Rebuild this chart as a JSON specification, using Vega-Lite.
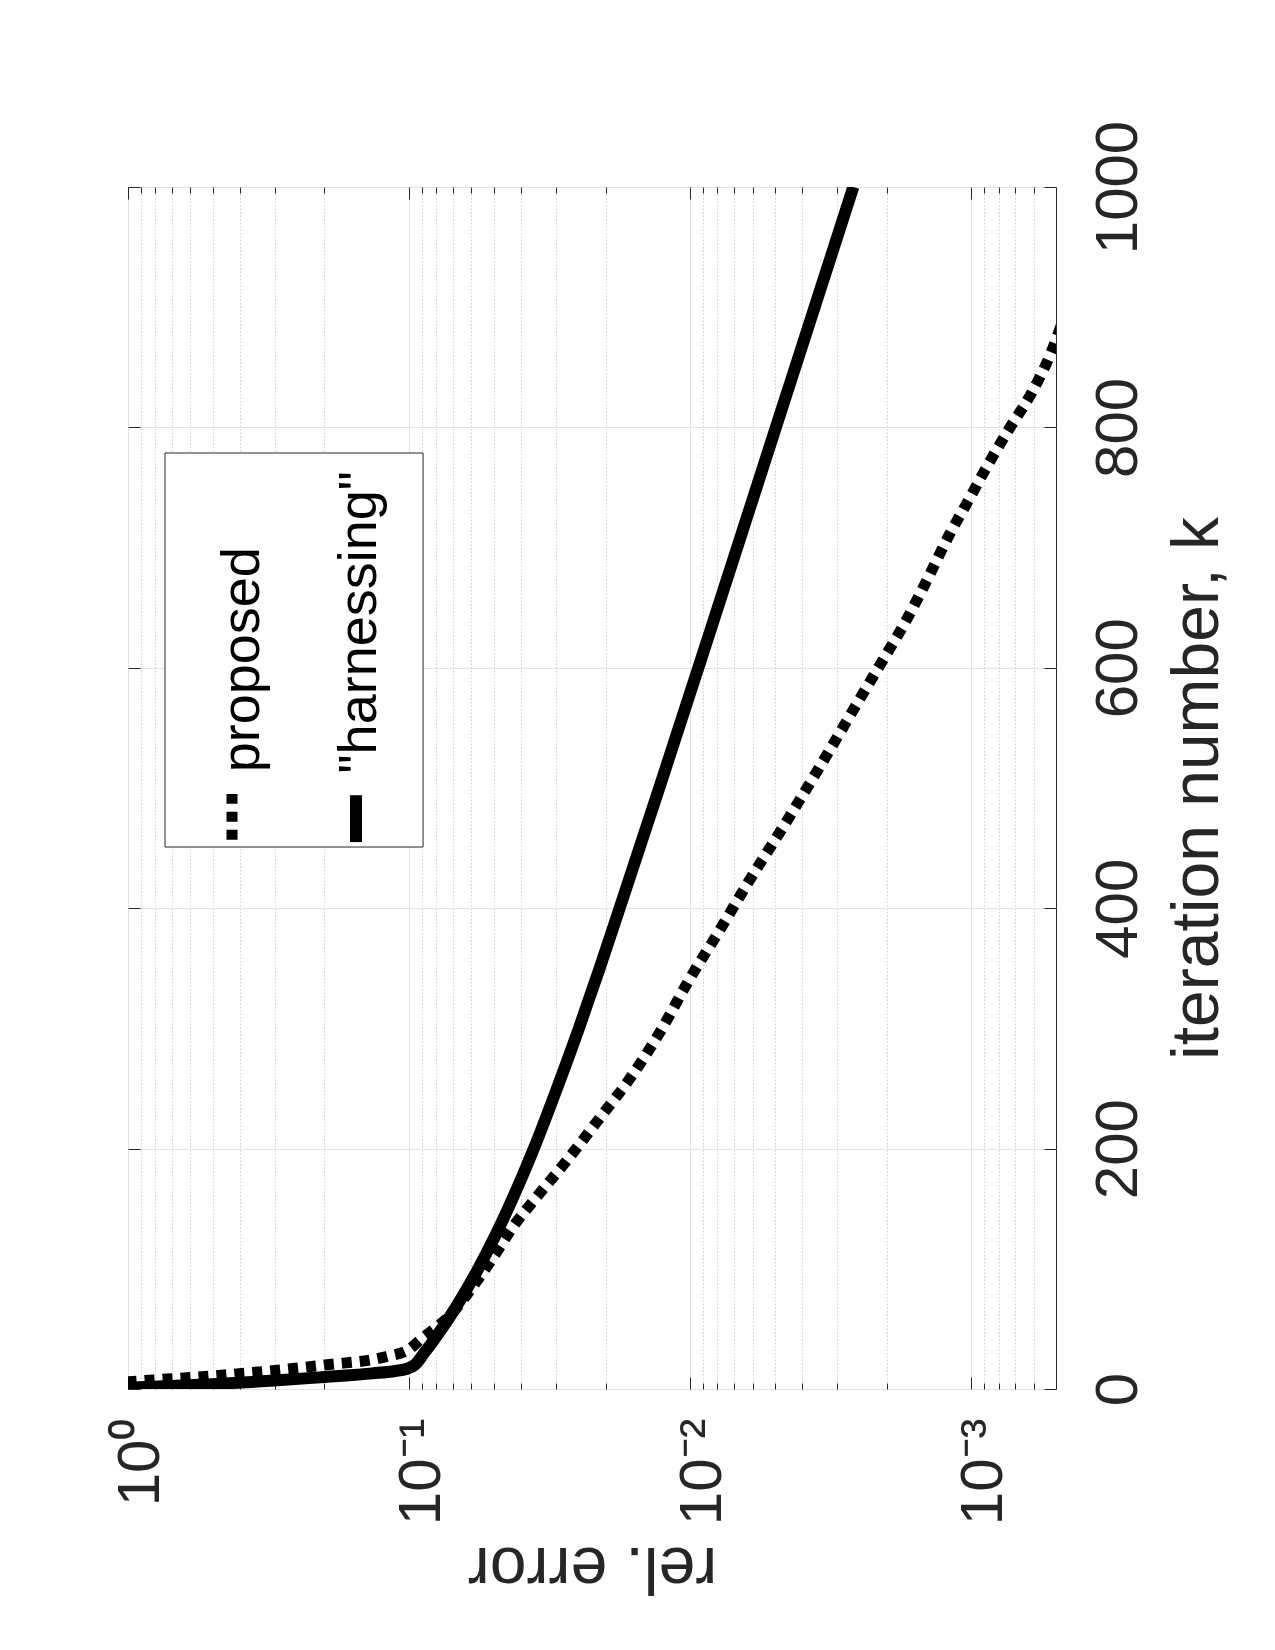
{
  "$schema": "https://vega.github.io/schema/vega-lite/v6.json",
  "width": 928,
  "height": 1202,
  "autosize": "none",
  "padding": {"left": 128, "top": 187, "right": 219, "bottom": 261},
  "background": "white",
  "config": {
    "view": {"stroke": "#262626", "strokeWidth": 1},
    "axis": {
      "labelFont": "Liberation Sans",
      "titleFont": "Liberation Sans",
      "labelColor": "#262626",
      "titleColor": "#262626",
      "tickColor": "#262626",
      "titleFontWeight": "normal",
      "domain": false,
      "labelFlush": false,
      "labelOverlap": false,
      "labelBound": false
    },
    "text": {"font": "Liberation Sans"}
  },
  "datasets": {
    "curves": [
      {"series": "proposed", "k": 1, "err": 1.82},
      {"series": "proposed", "k": 6, "err": 1.0},
      {"series": "proposed", "k": 12, "err": 0.4365},
      {"series": "proposed", "k": 20, "err": 0.1995},
      {"series": "proposed", "k": 27, "err": 0.1202},
      {"series": "proposed", "k": 33, "err": 0.1},
      {"series": "proposed", "k": 41, "err": 0.0912},
      {"series": "proposed", "k": 50, "err": 0.0813},
      {"series": "proposed", "k": 60, "err": 0.0724},
      {"series": "proposed", "k": 88, "err": 0.0582},
      {"series": "proposed", "k": 110, "err": 0.0501},
      {"series": "proposed", "k": 135, "err": 0.0427},
      {"series": "proposed", "k": 160, "err": 0.0351},
      {"series": "proposed", "k": 190, "err": 0.0275},
      {"series": "proposed", "k": 226, "err": 0.0209},
      {"series": "proposed", "k": 260, "err": 0.0162},
      {"series": "proposed", "k": 296, "err": 0.01288},
      {"series": "proposed", "k": 340, "err": 0.01012},
      {"series": "proposed", "k": 380, "err": 0.00794},
      {"series": "proposed", "k": 421, "err": 0.00624},
      {"series": "proposed", "k": 473, "err": 0.00452},
      {"series": "proposed", "k": 529, "err": 0.00324},
      {"series": "proposed", "k": 573, "err": 0.00251},
      {"series": "proposed", "k": 606, "err": 0.00207},
      {"series": "proposed", "k": 640, "err": 0.0017},
      {"series": "proposed", "k": 670, "err": 0.00146},
      {"series": "proposed", "k": 712, "err": 0.00119},
      {"series": "proposed", "k": 740, "err": 0.00102},
      {"series": "proposed", "k": 763, "err": 0.000902},
      {"series": "proposed", "k": 799, "err": 0.000733},
      {"series": "proposed", "k": 829, "err": 0.00061},
      {"series": "proposed", "k": 863, "err": 0.000519},
      {"series": "proposed", "k": 885, "err": 0.000479},
      {"series": "harnessing", "k": 1, "err": 1.0},
      {"series": "harnessing", "k": 4, "err": 0.501},
      {"series": "harnessing", "k": 7, "err": 0.302},
      {"series": "harnessing", "k": 10, "err": 0.1995},
      {"series": "harnessing", "k": 13, "err": 0.135},
      {"series": "harnessing", "k": 15, "err": 0.1122},
      {"series": "harnessing", "k": 17, "err": 0.1012},
      {"series": "harnessing", "k": 20, "err": 0.0955},
      {"series": "harnessing", "k": 30, "err": 0.0884},
      {"series": "harnessing", "k": 40, "err": 0.0821},
      {"series": "harnessing", "k": 50, "err": 0.0766},
      {"series": "harnessing", "k": 60, "err": 0.0717},
      {"series": "harnessing", "k": 75, "err": 0.0654},
      {"series": "harnessing", "k": 100, "err": 0.0568},
      {"series": "harnessing", "k": 125, "err": 0.05},
      {"series": "harnessing", "k": 150, "err": 0.0445},
      {"series": "harnessing", "k": 175, "err": 0.0399},
      {"series": "harnessing", "k": 200, "err": 0.036},
      {"series": "harnessing", "k": 250, "err": 0.0298},
      {"series": "harnessing", "k": 300, "err": 0.0249},
      {"series": "harnessing", "k": 350, "err": 0.021},
      {"series": "harnessing", "k": 400, "err": 0.01783},
      {"series": "harnessing", "k": 500, "err": 0.01289},
      {"series": "harnessing", "k": 600, "err": 0.00936},
      {"series": "harnessing", "k": 700, "err": 0.00681},
      {"series": "harnessing", "k": 800, "err": 0.00496},
      {"series": "harnessing", "k": 900, "err": 0.00361},
      {"series": "harnessing", "k": 1000, "err": 0.00263}
    ],
    "legendBox": [{"e1": 0.7386, "e2": 0.0892, "k1": 778.7, "k2": 450.9}],
    "legendText": [
      {"e": 0.39, "k": 513, "label": "proposed"},
      {"e": 0.1494, "k": 512, "label": "\"harnessing\""}
    ],
    "legendLines": [
      {"series": "proposed", "e": 0.4266, "k": 457},
      {"series": "proposed", "e": 0.4266, "k": 495},
      {"series": "harnessing", "e": 0.1545, "k": 455},
      {"series": "harnessing", "e": 0.1545, "k": 494}
    ]
  },
  "resolve": {"axis": {"x": "independent", "y": "independent"}},
  "layer": [
    {
      "data": {"name": "curves"},
      "transform": [{"filter": "datum.series === 'proposed'"}],
      "mark": {"type": "line", "clip": true, "color": "black", "strokeWidth": 11, "strokeDash": [10, 8], "strokeCap": "butt", "interpolate": "monotone"},
      "encoding": {
        "x": {
          "field": "err", "type": "quantitative",
          "scale": {"type": "log", "domain": [0.0005, 1], "reverse": true, "nice": false},
          "axis": {
            "orient": "bottom",
            "values": [1, 0.1, 0.01, 0.001],
            "labelExpr": "datum.value >= 0.5 ? '10⁰' : datum.value >= 0.05 ? '10⁻¹' : datum.value >= 0.005 ? '10⁻²' : '10⁻³'",
            "labelAngle": -90,
            "labelAlign": "right",
            "labelBaseline": "middle",
            "labelFontSize": 60,
            "labelPadding": 41,
            "labelOffset": 12,
            "tickSize": -12,
            "grid": true,
            "gridColor": "#e3e3e3",
            "gridWidth": 1,
            "title": "rel. error",
            "titleFontSize": 66,
            "titleAngle": 180,
            "titleAlign": "center",
            "titleBaseline": "alphabetic",
            "titleY": 158
          }
        },
        "y": {
          "field": "k", "type": "quantitative",
          "scale": {"domain": [0, 1000], "nice": false, "zero": false},
          "axis": {
            "orient": "right",
            "values": [0, 200, 400, 600, 800, 1000],
            "format": "d",
            "labelAngle": -90,
            "labelAlign": "center",
            "labelBaseline": "top",
            "labelFontSize": 60,
            "labelPadding": 45,
            "tickSize": -12,
            "grid": true,
            "gridColor": "#e3e3e3",
            "gridWidth": 1,
            "title": "iteration number, k",
            "titleFontSize": 66,
            "titleAngle": -90,
            "titleAlign": "center",
            "titleBaseline": "alphabetic",
            "titleX": 161
          }
        },
        "order": {"field": "k", "type": "quantitative"}
      }
    },
    {
      "data": {"name": "curves"},
      "transform": [{"filter": "datum.series === 'harnessing'"}],
      "mark": {"type": "line", "clip": true, "color": "black", "strokeWidth": 12, "strokeCap": "butt", "strokeJoin": "round", "interpolate": "monotone"},
      "encoding": {
        "x": {
          "field": "err", "type": "quantitative",
          "scale": {"type": "log", "domain": [0.0005, 1], "reverse": true, "nice": false},
          "axis": {
            "orient": "bottom",
            "values": [0.9, 0.8, 0.7, 0.6, 0.5, 0.4, 0.3, 0.2, 0.09, 0.08, 0.07, 0.06, 0.05, 0.04, 0.03, 0.02, 0.009, 0.008, 0.007, 0.006, 0.005, 0.004, 0.003, 0.002, 0.0009, 0.0008, 0.0007, 0.0006],
            "labels": false,
            "tickSize": -6,
            "grid": true,
            "gridColor": "#cfcfcf",
            "gridDash": [1.5, 2],
            "gridWidth": 1,
            "title": null
          }
        },
        "y": {
          "field": "k", "type": "quantitative",
          "scale": {"domain": [0, 1000], "nice": false, "zero": false},
          "axis": {
            "orient": "left",
            "values": [0, 200, 400, 600, 800, 1000],
            "labels": false,
            "tickSize": -12,
            "grid": false,
            "title": null
          }
        },
        "order": {"field": "k", "type": "quantitative"}
      }
    },
    {
      "data": {"name": "legendBox"},
      "mark": {"type": "rect", "fill": "white", "stroke": "#262626", "strokeWidth": 1},
      "encoding": {
        "x": {
          "field": "e1", "type": "quantitative",
          "scale": {"type": "log", "domain": [0.0005, 1], "reverse": true, "nice": false},
          "axis": {
            "orient": "top",
            "values": [1, 0.1, 0.01, 0.001],
            "labels": false,
            "tickSize": -12,
            "grid": false,
            "title": null
          }
        },
        "x2": {"field": "e2"},
        "y": {
          "field": "k1", "type": "quantitative",
          "scale": {"domain": [0, 1000], "nice": false, "zero": false},
          "axis": null
        },
        "y2": {"field": "k2"}
      }
    },
    {
      "data": {"name": "legendText"},
      "mark": {"type": "text", "angle": -90, "align": "left", "baseline": "middle", "fontSize": 54, "font": "Liberation Sans", "color": "black"},
      "encoding": {
        "x": {
          "field": "e", "type": "quantitative",
          "scale": {"type": "log", "domain": [0.0005, 1], "reverse": true, "nice": false},
          "axis": {
            "orient": "top",
            "values": [0.9, 0.8, 0.7, 0.6, 0.5, 0.4, 0.3, 0.2, 0.09, 0.08, 0.07, 0.06, 0.05, 0.04, 0.03, 0.02, 0.009, 0.008, 0.007, 0.006, 0.005, 0.004, 0.003, 0.002, 0.0009, 0.0008, 0.0007, 0.0006],
            "labels": false,
            "tickSize": -6,
            "grid": false,
            "title": null
          }
        },
        "y": {
          "field": "k", "type": "quantitative",
          "scale": {"domain": [0, 1000], "nice": false, "zero": false},
          "axis": null
        },
        "text": {"field": "label", "type": "nominal"}
      }
    },
    {
      "data": {"name": "legendLines"},
      "transform": [{"filter": "datum.series === 'proposed'"}],
      "mark": {"type": "line", "color": "black", "strokeWidth": 11, "strokeDash": [10, 8], "strokeCap": "butt"},
      "encoding": {
        "x": {"field": "e", "type": "quantitative", "scale": {"type": "log", "domain": [0.0005, 1], "reverse": true, "nice": false}, "axis": null},
        "y": {"field": "k", "type": "quantitative", "scale": {"domain": [0, 1000], "nice": false, "zero": false}, "axis": null},
        "order": {"field": "k", "type": "quantitative"}
      }
    },
    {
      "data": {"name": "legendLines"},
      "transform": [{"filter": "datum.series === 'harnessing'"}],
      "mark": {"type": "line", "color": "black", "strokeWidth": 12, "strokeCap": "butt"},
      "encoding": {
        "x": {"field": "e", "type": "quantitative", "scale": {"type": "log", "domain": [0.0005, 1], "reverse": true, "nice": false}, "axis": null},
        "y": {"field": "k", "type": "quantitative", "scale": {"domain": [0, 1000], "nice": false, "zero": false}, "axis": null},
        "order": {"field": "k", "type": "quantitative"}
      }
    }
  ]
}
